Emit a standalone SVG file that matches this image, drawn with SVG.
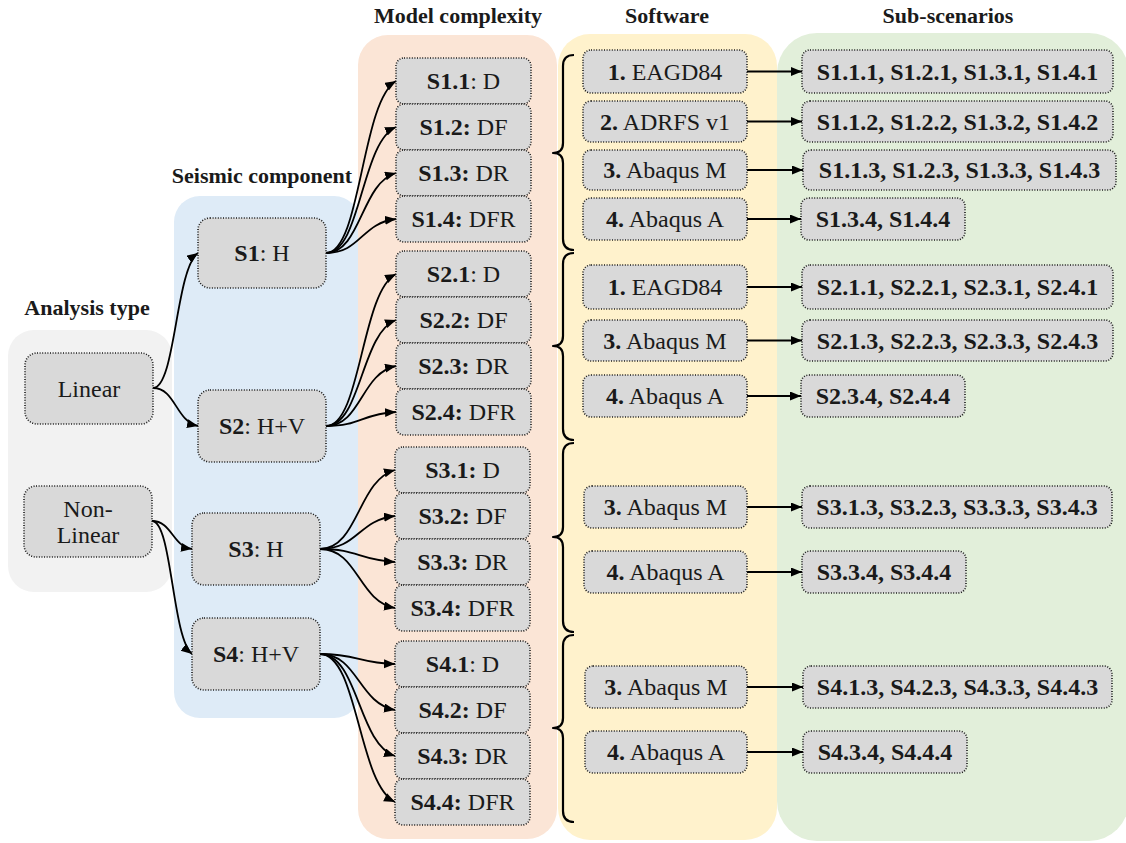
<svg xmlns="http://www.w3.org/2000/svg" width="1126" height="843" viewBox="0 0 1126 843" font-family="'Liberation Serif', serif">
  <style>
    text { font-family: 'Liberation Serif', 'Times New Roman', serif; font-size: 24px; fill: #1a1a1a; }
    .title { font-size: 22px; font-weight: bold; text-anchor: middle; }
    .lbl { text-anchor: middle; }
    .b { font-weight: bold; }
    .node { fill: #d9d9d9; stroke: #1a1a1a; stroke-width: 1.6; stroke-dasharray: 1 1.6; }
    .conn { fill: none; stroke: #000; stroke-width: 1.8; }
    .brace { fill: none; stroke: #000; stroke-width: 2.2; stroke-linejoin: round; }
  </style>
  <defs>
    <marker id="arrow" markerUnits="userSpaceOnUse" markerWidth="12" markerHeight="10" refX="11" refY="4.5" orient="auto">
      <path d="M0,0 L11,4.5 L0,9 z" fill="#000"/>
    </marker>
  </defs>

  <!-- column panels -->
  <g id="panels">
    <rect x="8" y="330" width="164" height="262" rx="26" fill="#f2f2f2"/>
    <rect x="174" y="196" width="186" height="522" rx="26" fill="#deebf7"/>
    <rect x="358" y="35" width="199" height="804" rx="30" fill="#fbe5d6"/>
    <rect x="558" y="34" width="219" height="806" rx="32" fill="#fff2cc"/>
    <rect x="777" y="33" width="352" height="808" rx="40" fill="#e2efda"/>
  </g>

  <!-- column headings -->
  <g id="titles">
    <text class="title" x="87" y="315">Analysis type</text>
    <text class="title" x="262" y="183">Seismic component</text>
    <text class="title" x="458" y="23">Model complexity</text>
    <text class="title" x="667" y="23">Software</text>
    <text class="title" x="948" y="23">Sub-scenarios</text>
  </g>

  <!-- connectors -->
  <g id="connectors">
    <g class="conn" marker-end="url(#arrow)">
      <path d="M153,388 C175.5,388 175.5,269 198,253"/>
      <path d="M153,388 C175.5,388 175.5,421 198,426"/>
      <path d="M152,521 C172,521 172,546 192,549"/>
      <path d="M152,521 C172,521 172,638 192,654"/>

      <path d="M326,253 C361,253 361,102 396,81"/>
      <path d="M326,253 C361,253 361,142 396,127"/>
      <path d="M326,253 C361,253 361,183 396,173"/>
      <path d="M326,253 C361,253 361,223 396,219"/>

      <path d="M326,426 C361,426 361,292 396,274"/>
      <path d="M326,426 C361,426 361,333 396,320"/>
      <path d="M326,426 C361,426 361,373 396,366"/>
      <path d="M326,426 C361,426 361,414 396,412"/>

      <path d="M320,549 C358,549 358,480 395,470"/>
      <path d="M320,549 C358,549 358,520 395,516"/>
      <path d="M320,549 C358,549 358,560 395,562"/>
      <path d="M320,549 C358,549 358,601 395,608"/>

      <path d="M320,654 C358,654 358,663 395,664"/>
      <path d="M320,654 C358,654 358,703 395,710"/>
      <path d="M320,654 C358,654 358,744 395,756"/>
      <path d="M320,654 C358,654 358,784 395,802"/>

      <path d="M747,71.5 H802"/>
      <path d="M747,121.5 H802"/>
      <path d="M747,170 H803"/>
      <path d="M747,219 H801"/>
      <path d="M747,287 H802"/>
      <path d="M747,340.5 H802"/>
      <path d="M747,396 H801"/>
      <path d="M747,507 H802"/>
      <path d="M747,572 H802"/>
      <path d="M747,687 H803"/>
      <path d="M747,752 H803"/>
    </g>
    <!-- braces grouping the software per scenario -->
    <path class="brace" d="M574,55 Q563,55 563,66 L563,143 Q563,153 553,153 Q563,153 563,163 L563,239 Q563,250 574,250"/>
    <path class="brace" d="M574,253 Q563,253 563,264 L563,336 Q563,346 553,346 Q563,346 563,356 L563,429 Q563,440 574,440"/>
    <path class="brace" d="M574,443 Q563,443 563,454 L563,527 Q563,537 553,537 Q563,537 563,547 L563,621 Q563,632 574,632"/>
    <path class="brace" d="M574,635 Q563,635 563,646 L563,718 Q563,728 553,728 Q563,728 563,738 L563,811 Q563,822 574,822"/>
  </g>

  <!-- analysis type -->
  <g id="n-linear">
    <rect class="node" x="25" y="353" width="128" height="71" rx="12"/>
    <text class="lbl" x="89" y="397">Linear</text>
  </g>
  <g id="n-nonlinear">
    <rect class="node" x="24" y="486" width="128" height="71" rx="12"/>
    <text class="lbl" x="88" y="517">Non-</text>
    <text class="lbl" x="88" y="543">Linear</text>
  </g>

  <!-- seismic component -->
  <g id="n-s1">
    <rect class="node" x="198" y="218" width="128" height="70" rx="12"/>
    <text class="lbl" x="262" y="261"><tspan class="b">S1</tspan>: H</text>
  </g>
  <g id="n-s2">
    <rect class="node" x="198" y="390" width="128" height="72" rx="12"/>
    <text class="lbl" x="262" y="434"><tspan class="b">S2</tspan>: H+V</text>
  </g>
  <g id="n-s3">
    <rect class="node" x="192" y="513" width="128" height="72" rx="12"/>
    <text class="lbl" x="256" y="557"><tspan class="b">S3</tspan>: H</text>
  </g>
  <g id="n-s4">
    <rect class="node" x="192" y="618" width="128" height="72" rx="12"/>
    <text class="lbl" x="256" y="662"><tspan class="b">S4</tspan>: H+V</text>
  </g>

  <!-- model complexity -->
  <g id="n-s1-1"><rect class="node" x="396" y="58" width="135" height="46" rx="8"/><text class="lbl" x="463.5" y="89"><tspan class="b">S1.1</tspan>: D</text></g>
  <g id="n-s1-2"><rect class="node" x="396" y="104" width="135" height="46" rx="8"/><text class="lbl" x="463.5" y="135"><tspan class="b">S1.2:</tspan> DF</text></g>
  <g id="n-s1-3"><rect class="node" x="396" y="150" width="135" height="46" rx="8"/><text class="lbl" x="463.5" y="181"><tspan class="b">S1.3:</tspan> DR</text></g>
  <g id="n-s1-4"><rect class="node" x="396" y="196" width="135" height="46" rx="8"/><text class="lbl" x="463.5" y="227"><tspan class="b">S1.4:</tspan> DFR</text></g>

  <g id="n-s2-1"><rect class="node" x="396" y="251" width="135" height="46" rx="8"/><text class="lbl" x="463.5" y="282"><tspan class="b">S2.1</tspan>: D</text></g>
  <g id="n-s2-2"><rect class="node" x="396" y="297" width="135" height="46" rx="8"/><text class="lbl" x="463.5" y="328"><tspan class="b">S2.2:</tspan> DF</text></g>
  <g id="n-s2-3"><rect class="node" x="396" y="343" width="135" height="46" rx="8"/><text class="lbl" x="463.5" y="374"><tspan class="b">S2.3:</tspan> DR</text></g>
  <g id="n-s2-4"><rect class="node" x="396" y="389" width="135" height="46" rx="8"/><text class="lbl" x="463.5" y="420"><tspan class="b">S2.4:</tspan> DFR</text></g>

  <g id="n-s3-1"><rect class="node" x="395" y="447" width="135" height="46" rx="8"/><text class="lbl" x="462.5" y="478"><tspan class="b">S3.1:</tspan> D</text></g>
  <g id="n-s3-2"><rect class="node" x="395" y="493" width="135" height="46" rx="8"/><text class="lbl" x="462.5" y="524"><tspan class="b">S3.2:</tspan> DF</text></g>
  <g id="n-s3-3"><rect class="node" x="395" y="539" width="135" height="46" rx="8"/><text class="lbl" x="462.5" y="570"><tspan class="b">S3.3:</tspan> DR</text></g>
  <g id="n-s3-4"><rect class="node" x="395" y="585" width="135" height="46" rx="8"/><text class="lbl" x="462.5" y="616"><tspan class="b">S3.4:</tspan> DFR</text></g>

  <g id="n-s4-1"><rect class="node" x="395" y="641" width="135" height="46" rx="8"/><text class="lbl" x="462.5" y="672"><tspan class="b">S4.1</tspan>: D</text></g>
  <g id="n-s4-2"><rect class="node" x="395" y="687" width="135" height="46" rx="8"/><text class="lbl" x="462.5" y="718"><tspan class="b">S4.2:</tspan> DF</text></g>
  <g id="n-s4-3"><rect class="node" x="395" y="733" width="135" height="46" rx="8"/><text class="lbl" x="462.5" y="764"><tspan class="b">S4.3:</tspan> DR</text></g>
  <g id="n-s4-4"><rect class="node" x="395" y="779" width="135" height="46" rx="8"/><text class="lbl" x="462.5" y="810"><tspan class="b">S4.4:</tspan> DFR</text></g>

  <!-- software -->
  <g id="sw-1-1"><rect class="node" x="583" y="50" width="164" height="43" rx="8"/><text class="lbl" x="665" y="79.5"><tspan class="b">1.</tspan> EAGD84</text></g>
  <g id="sw-1-2"><rect class="node" x="583" y="101" width="164" height="41" rx="8"/><text class="lbl" x="665" y="129.5"><tspan class="b">2.</tspan> ADRFS v1</text></g>
  <g id="sw-1-3"><rect class="node" x="583" y="150" width="164" height="40" rx="8"/><text class="lbl" x="665" y="178"><tspan class="b">3.</tspan> Abaqus M</text></g>
  <g id="sw-1-4"><rect class="node" x="583" y="198" width="164" height="42" rx="8"/><text class="lbl" x="665" y="227"><tspan class="b">4.</tspan> Abaqus A</text></g>

  <g id="sw-2-1"><rect class="node" x="583" y="265" width="164" height="44" rx="8"/><text class="lbl" x="665" y="295"><tspan class="b">1.</tspan> EAGD84</text></g>
  <g id="sw-2-3"><rect class="node" x="583" y="320" width="164" height="41" rx="8"/><text class="lbl" x="665" y="348.5"><tspan class="b">3.</tspan> Abaqus M</text></g>
  <g id="sw-2-4"><rect class="node" x="583" y="375" width="164" height="42" rx="8"/><text class="lbl" x="665" y="404"><tspan class="b">4.</tspan> Abaqus A</text></g>

  <g id="sw-3-3"><rect class="node" x="584" y="486" width="163" height="42" rx="8"/><text class="lbl" x="665.5" y="515"><tspan class="b">3.</tspan> Abaqus M</text></g>
  <g id="sw-3-4"><rect class="node" x="584" y="551" width="163" height="42" rx="8"/><text class="lbl" x="665.5" y="580"><tspan class="b">4.</tspan> Abaqus A</text></g>

  <g id="sw-4-3"><rect class="node" x="585" y="666" width="162" height="42" rx="8"/><text class="lbl" x="666" y="695"><tspan class="b">3.</tspan> Abaqus M</text></g>
  <g id="sw-4-4"><rect class="node" x="585" y="731" width="162" height="42" rx="8"/><text class="lbl" x="666" y="760"><tspan class="b">4.</tspan> Abaqus A</text></g>

  <!-- sub-scenarios -->
  <g id="sub-1-1"><rect class="node" x="802" y="50" width="311" height="43" rx="8"/><text class="lbl b" x="957.5" y="79.5">S1.1.1, S1.2.1, S1.3.1, S1.4.1</text></g>
  <g id="sub-1-2"><rect class="node" x="802" y="101" width="311" height="41" rx="8"/><text class="lbl b" x="957.5" y="129.5">S1.1.2, S1.2.2, S1.3.2, S1.4.2</text></g>
  <g id="sub-1-3"><rect class="node" x="803" y="150" width="313" height="40" rx="8"/><text class="lbl b" x="959.5" y="178">S1.1.3, S1.2.3, S1.3.3, S1.4.3</text></g>
  <g id="sub-1-4"><rect class="node" x="801" y="198" width="164" height="42" rx="8"/><text class="lbl b" x="883" y="227">S1.3.4, S1.4.4</text></g>

  <g id="sub-2-1"><rect class="node" x="802" y="265" width="311" height="44" rx="8"/><text class="lbl b" x="957.5" y="295">S2.1.1, S2.2.1, S2.3.1, S2.4.1</text></g>
  <g id="sub-2-3"><rect class="node" x="802" y="320" width="311" height="41" rx="8"/><text class="lbl b" x="957.5" y="348.5">S2.1.3, S2.2.3, S2.3.3, S2.4.3</text></g>
  <g id="sub-2-4"><rect class="node" x="801" y="375" width="164" height="42" rx="8"/><text class="lbl b" x="883" y="404">S2.3.4, S2.4.4</text></g>

  <g id="sub-3-3"><rect class="node" x="802" y="486" width="310" height="42" rx="8"/><text class="lbl b" x="957" y="515">S3.1.3, S3.2.3, S3.3.3, S3.4.3</text></g>
  <g id="sub-3-4"><rect class="node" x="802" y="551" width="164" height="42" rx="8"/><text class="lbl b" x="884" y="580">S3.3.4, S3.4.4</text></g>

  <g id="sub-4-3"><rect class="node" x="803" y="666" width="309" height="42" rx="8"/><text class="lbl b" x="957.5" y="695">S4.1.3, S4.2.3, S4.3.3, S4.4.3</text></g>
  <g id="sub-4-4"><rect class="node" x="803" y="731" width="164" height="42" rx="8"/><text class="lbl b" x="885" y="760">S4.3.4, S4.4.4</text></g>
</svg>
